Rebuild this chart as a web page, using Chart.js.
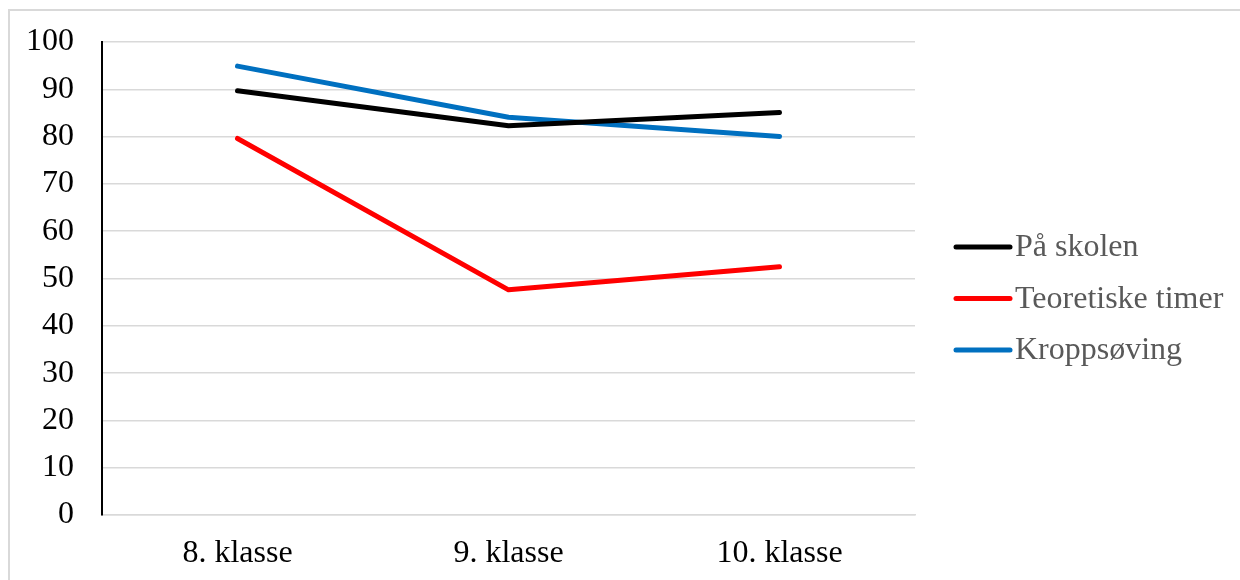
<!DOCTYPE html>
<html>
<head>
<meta charset="utf-8">
<script src="https://cdn.jsdelivr.net/npm/chart.js@4/dist/chart.umd.min.js"></script>
<style>
  html, body { margin: 0; padding: 0; background: #fff; }
  #wrap { position: relative; width: 1240px; height: 580px; }
</style>
</head>
<body>
<div id="wrap"><canvas id="c" width="1240" height="580"></canvas></div>
<script>
// Andel elever (prosent) per klassetrinn
const categories = ['8. klasse', '9. klasse', '10. klasse'];
const paaSkolen = [89.7, 82.3, 85.1];
const teoretiskeTimer = [79.6, 47.6, 52.5];
const kroppsoving = [94.9, 84.1, 80.0];
const seriesNames = ['På skolen', 'Teoretiske timer', 'Kroppsøving'];
const seriesColors = ['#000000', '#FF0000', '#0070C0'];
const yTicks = [0, 10, 20, 30, 40, 50, 60, 70, 80, 90, 100];

const FONT = '"Liberation Serif", "Times New Roman", serif';
const FONT_SIZE = 32;

// Outer frame (top and left edges) around the chart
const framePlugin = {
  id: 'frame',
  beforeDraw(chart) {
    const ctx = chart.ctx;
    ctx.save();
    ctx.fillStyle = '#ffffff';
    ctx.fillRect(0, 0, chart.width, chart.height);
    ctx.strokeStyle = '#d9d9d9';
    ctx.lineWidth = 2;
    ctx.beginPath();
    ctx.moveTo(9, chart.height);
    ctx.lineTo(9, 10);
    ctx.lineTo(chart.width, 10);
    ctx.stroke();
    ctx.restore();
  }
};

// Legend to the right of the plot: short line sample followed by the series name
const sideLegend = {
  id: 'sideLegend',
  afterDraw(chart) {
    const ctx = chart.ctx;
    const x0 = 956, x1 = 1010, textX = 1015;
    const firstY = 247, step = 51.5;
    ctx.save();
    ctx.font = FONT_SIZE + 'px ' + FONT;
    ctx.textBaseline = 'middle';
    ctx.textAlign = 'left';
    chart.data.datasets.forEach((ds, i) => {
      const y = firstY + i * step;
      ctx.strokeStyle = ds.borderColor;
      ctx.lineWidth = ds.borderWidth;
      ctx.lineCap = 'round';
      ctx.beginPath();
      ctx.moveTo(x0, y);
      ctx.lineTo(x1, y);
      ctx.stroke();
      ctx.fillStyle = '#595959';
      ctx.fillText(ds.label, textX, y + 1);
    });
    ctx.restore();
  }
};

const seriesValues = [paaSkolen, teoretiskeTimer, kroppsoving];
const datasets = seriesValues.map((vals, i) => ({
  label: seriesNames[i],
  data: vals,
  borderColor: seriesColors[i],
  backgroundColor: seriesColors[i],
  borderWidth: 5,
  borderCapStyle: 'round',
  borderJoinStyle: 'round',
  pointRadius: 0,
  pointHoverRadius: 0,
  tension: 0,
  fill: false
}));

new Chart(document.getElementById('c'), {
  type: 'line',
  data: { labels: categories, datasets },
  options: {
    responsive: false,
    animation: false,
    devicePixelRatio: 1,
    layout: { padding: { left: 0, top: 42, right: 325, bottom: 0 } },
    plugins: {
      legend: { display: false },
      tooltip: { enabled: false }
    },
    scales: {
      x: {
        offset: true,
        grid: { display: false, drawTicks: false },
        border: { display: true, color: '#d9d9d9', width: 1.5 },
        ticks: {
          color: '#000000',
          font: { family: FONT, size: FONT_SIZE },
          padding: 19,
          maxRotation: 0
        },
        afterFit(s) { s.height = 65; s.paddingLeft = 0; s.paddingRight = 0; }
      },
      y: {
        min: 0,
        max: 100,
        afterBuildTicks(s) { s.ticks = yTicks.map(v => ({ value: v })); },
        grid: { color: '#d9d9d9', lineWidth: 1.5, drawTicks: false },
        border: { display: true, color: '#000000', width: 2 },
        ticks: {
          color: '#000000',
          font: { family: FONT, size: FONT_SIZE },
          padding: 28
        },
        afterFit(s) { s.width = 102; s.paddingTop = 0; s.paddingBottom = 0; }
      }
    }
  },
  plugins: [framePlugin, sideLegend]
});
</script>
</body>
</html>
